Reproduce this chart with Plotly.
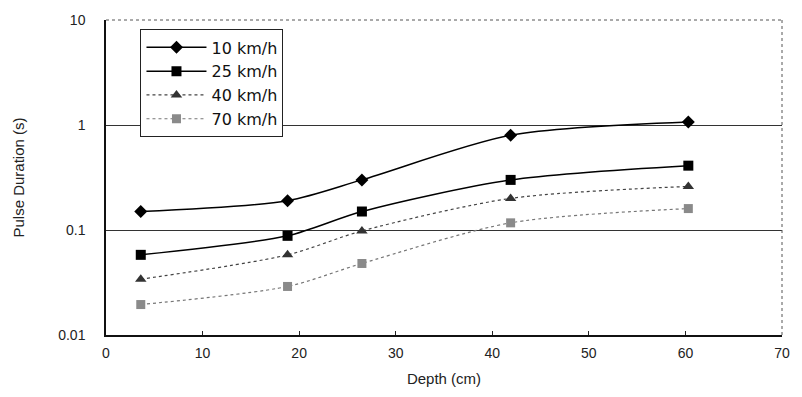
import plotly.graph_objects as go

# Depth of each measurement (cm)
depth = [3.6, 18.8, 26.5, 41.9, 60.3]

# Pulse duration (s) per vehicle speed
speed_labels = ["10 km/h", "25 km/h", "40 km/h", "70 km/h"]
dur_10 = [0.15, 0.19, 0.30, 0.80, 1.07]
dur_25 = [0.058, 0.088, 0.15, 0.30, 0.41]
dur_40 = [0.034, 0.058, 0.098, 0.20, 0.26]
dur_70 = [0.0195, 0.029, 0.048, 0.117, 0.16]

x_ticks = [0, 10, 20, 30, 40, 50, 60, 70]
y_ticks = [0.01, 0.1, 1, 10]
y_tick_text = ["0.01", "0.1", "1", "10"]

styles = [
    dict(color="#000000", dash="solid", width=1.5, symbol="diamond", mcolor="#000000", size=10),
    dict(color="#000000", dash="solid", width=1.5, symbol="square", mcolor="#000000", size=10),
    dict(color="#444444", dash="dot", width=1.2, symbol="triangle-up", mcolor="#333333", size=10),
    dict(color="#777777", dash="dot", width=1.2, symbol="square", mcolor="#8a8a8a", size=9),
]

fig = go.Figure()
for name, ys, st in zip(speed_labels, [dur_10, dur_25, dur_40, dur_70], styles):
    fig.add_trace(go.Scatter(
        x=depth, y=ys, name=name, mode="lines+markers",
        line=dict(color=st["color"], dash=st["dash"], width=st["width"],
                  shape="spline", smoothing=0.8),
        marker=dict(symbol=st["symbol"], color=st["mcolor"], size=st["size"],
                    line=dict(width=0)),
    ))

font_family = "Liberation Sans, Arial, sans-serif"

fig.update_layout(
    width=802, height=397,
    margin=dict(l=106, r=18, t=18, b=61),
    paper_bgcolor="white", plot_bgcolor="white",
    font=dict(family=font_family, size=13, color="#222222"),
    showlegend=True,
    legend=dict(
        x=0.051, y=0.97, xanchor="left", yanchor="top",
        bgcolor="white", bordercolor="#222222", borderwidth=1,
        font=dict(family="DejaVu Sans, sans-serif", size=16, color="#111111"),
        itemwidth=60, tracegroupgap=0,
    ),
    xaxis=dict(
        range=[0, 70], tickvals=x_ticks, ticks="inside", ticklen=4,
        tickcolor="#222222", showgrid=False, zeroline=False,
        showline=True, linecolor="#111111", linewidth=1.5,
        tickfont=dict(size=14), ticklabelstandoff=4,
        title=dict(text="Depth (cm)", font=dict(size=15), standoff=14),
    ),
    yaxis=dict(
        type="log", range=[-2, 1], tickvals=y_ticks, ticktext=y_tick_text,
        ticks="", showgrid=True, gridcolor="#333333", gridwidth=1,
        zeroline=False, showline=True, linecolor="#111111", linewidth=1.5,
        tickfont=dict(size=14), ticklabelstandoff=16,
        title=dict(text="Pulse Duration (s)", font=dict(size=15), standoff=30),
    ),
)

# dotted top and right borders of the plot area
fig.add_shape(type="line", xref="paper", yref="paper", x0=0, x1=1, y0=1, y1=1,
              line=dict(color="#555555", width=1, dash="dot"))
fig.add_shape(type="line", xref="paper", yref="paper", x0=1, x1=1, y0=0, y1=1,
              line=dict(color="#555555", width=1, dash="dot"))

fig.write_html("out.html")
